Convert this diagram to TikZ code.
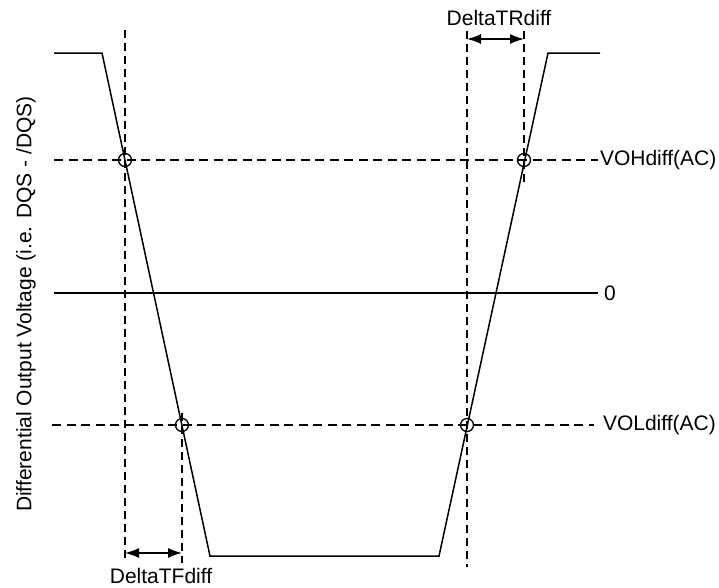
\documentclass[tikz,border=0pt]{standalone}
\usepackage{fontspec}
\setmainfont{Liberation Sans}
\usetikzlibrary{arrows.meta}
\newlength{\du}
\setlength{\du}{10pt}

\begin{document}
\begin{tikzpicture}[even odd rule,font=\fontsize{21}{25}\selectfont]
\pgftransformxscale{1.000000}
\pgftransformyscale{-1.000000}
\useasboundingbox (0.000000\du,0.000000\du) rectangle (71.900000\du,58.700000\du);
\definecolor{dialinecolor}{rgb}{0.000000, 0.000000, 0.000000}
\pgfsetstrokecolor{dialinecolor}
\pgfsetstrokeopacity{1.000000}
\definecolor{diafillcolor}{rgb}{1.000000, 1.000000, 1.000000}
\pgfsetfillcolor{diafillcolor}
\pgfsetfillopacity{1.000000}
% corners of the output waveform
\coordinate (hiL) at (5.400000\du,5.300000\du);
\coordinate (fallA) at (10.200000\du,5.300000\du);
\coordinate (fallB) at (21.000000\du,55.600000\du);
\coordinate (riseA) at (43.900000\du,55.600000\du);
\coordinate (riseB) at (54.800000\du,5.300000\du);
\coordinate (hiR) at (60.000000\du,5.300000\du);
% level lines
\coordinate (vohL) at (5.400000\du,16.000000\du);
\coordinate (vohR) at (59.800000\du,16.000000\du);
\coordinate (zeroL) at (5.400000\du,29.300000\du);
\coordinate (zeroR) at (59.800000\du,29.300000\du);
\coordinate (volL) at (5.200000\du,42.500000\du);
\coordinate (volR) at (59.400000\du,42.500000\du);
% time marks
\coordinate (tfaT) at (12.500000\du,3.000000\du);
\coordinate (tfaB) at (12.500000\du,56.300000\du);
\coordinate (tfbT) at (18.200000\du,41.300000\du);
\coordinate (tfbB) at (18.200000\du,56.300000\du);
\coordinate (traT) at (46.700000\du,3.100000\du);
\coordinate (traB) at (46.700000\du,56.700000\du);
\coordinate (trbT) at (52.400000\du,3.100000\du);
\coordinate (trbB) at (52.400000\du,18.500000\du);
\coordinate (tfL) at (12.500000\du,55.300000\du);
\coordinate (tfR) at (18.200000\du,55.300000\du);
\coordinate (trL) at (46.700000\du,3.900000\du);
\coordinate (trR) at (52.400000\du,3.900000\du);
\pgfsetlinewidth{0.150000\du}
\pgfsetdash{}{0pt}
\pgfsetmiterjoin
\pgfsetbuttcap
{
\definecolor{dialinecolor}{rgb}{0.000000, 0.000000, 0.000000}
\pgfsetstrokecolor{dialinecolor}
\draw (hiL)--(fallA)--(fallB)--(riseA)--(riseB)--(hiR);
}
\pgfsetlinewidth{0.140000\du}
{
\definecolor{dialinecolor}{rgb}{0.000000, 0.000000, 0.000000}
\pgfsetstrokecolor{dialinecolor}
\draw (zeroL)--(zeroR);
}
\pgfsetlinewidth{0.140000\du}
\pgfsetdash{{0.900000\du}{0.550000\du}}{0pt}
{
\definecolor{dialinecolor}{rgb}{0.000000, 0.000000, 0.000000}
\pgfsetstrokecolor{dialinecolor}
\draw (vohL)--(vohR);
\draw (volL)--(volR);
}
\pgfsetdash{{0.800000\du}{0.500000\du}}{0pt}
{
\definecolor{dialinecolor}{rgb}{0.000000, 0.000000, 0.000000}
\pgfsetstrokecolor{dialinecolor}
\draw (tfaT)--(tfaB);
\draw (tfbT)--(tfbB);
\draw (traT)--(traB);
\draw (trbT)--(trbB);
}
\pgfsetdash{}{0pt}
% crossing marks
\node[circle,draw=dialinecolor,line width=0.13\du,minimum size=1.300000\du,inner sep=0pt] (xohF) at (12.500000\du,16.000000\du){};
\node[circle,draw=dialinecolor,line width=0.13\du,minimum size=1.300000\du,inner sep=0pt] (xolF) at (18.200000\du,42.500000\du){};
\node[circle,draw=dialinecolor,line width=0.13\du,minimum size=1.300000\du,inner sep=0pt] (xolR) at (46.700000\du,42.500000\du){};
\node[circle,draw=dialinecolor,line width=0.13\du,minimum size=1.300000\du,inner sep=0pt] (xohR) at (52.400000\du,16.000000\du){};
\pgfsetlinewidth{0.140000\du}
{
\definecolor{dialinecolor}{rgb}{0.000000, 0.000000, 0.000000}
\pgfsetstrokecolor{dialinecolor}
\draw[{Latex[length=14pt,width=10pt]}-{Latex[length=14pt,width=10pt]}] (tfL)--(tfR);
\draw[{Latex[length=14pt,width=10pt]}-{Latex[length=14pt,width=10pt]}] (trL)--(trR);
}
% setfont left to latex
\node[anchor=west,inner sep=0pt,outer sep=0pt,color=dialinecolor] (voh) at (60.000000\du,16.000000\du){VOHdiff(AC)};
\node[anchor=west,inner sep=0pt,outer sep=0pt,color=dialinecolor] (zero) at (60.400000\du,29.300000\du){0};
\node[anchor=west,inner sep=0pt,outer sep=0pt,color=dialinecolor] (vol) at (60.300000\du,42.500000\du){VOLdiff(AC)};
\node[inner sep=0pt,outer sep=0pt,color=dialinecolor] (dtr) at (49.900000\du,1.800000\du){DeltaTRdiff};
\node[inner sep=0pt,outer sep=0pt,color=dialinecolor] (dtf) at (16.100000\du,57.600000\du){DeltaTFdiff};
\node[rotate=90,inner sep=0pt,outer sep=0pt,color=dialinecolor] (ylab) at (2.600000\du,30.400000\du){Differential Output Voltage (i.e. DQS - /DQS)};
\end{tikzpicture}
\end{document}
